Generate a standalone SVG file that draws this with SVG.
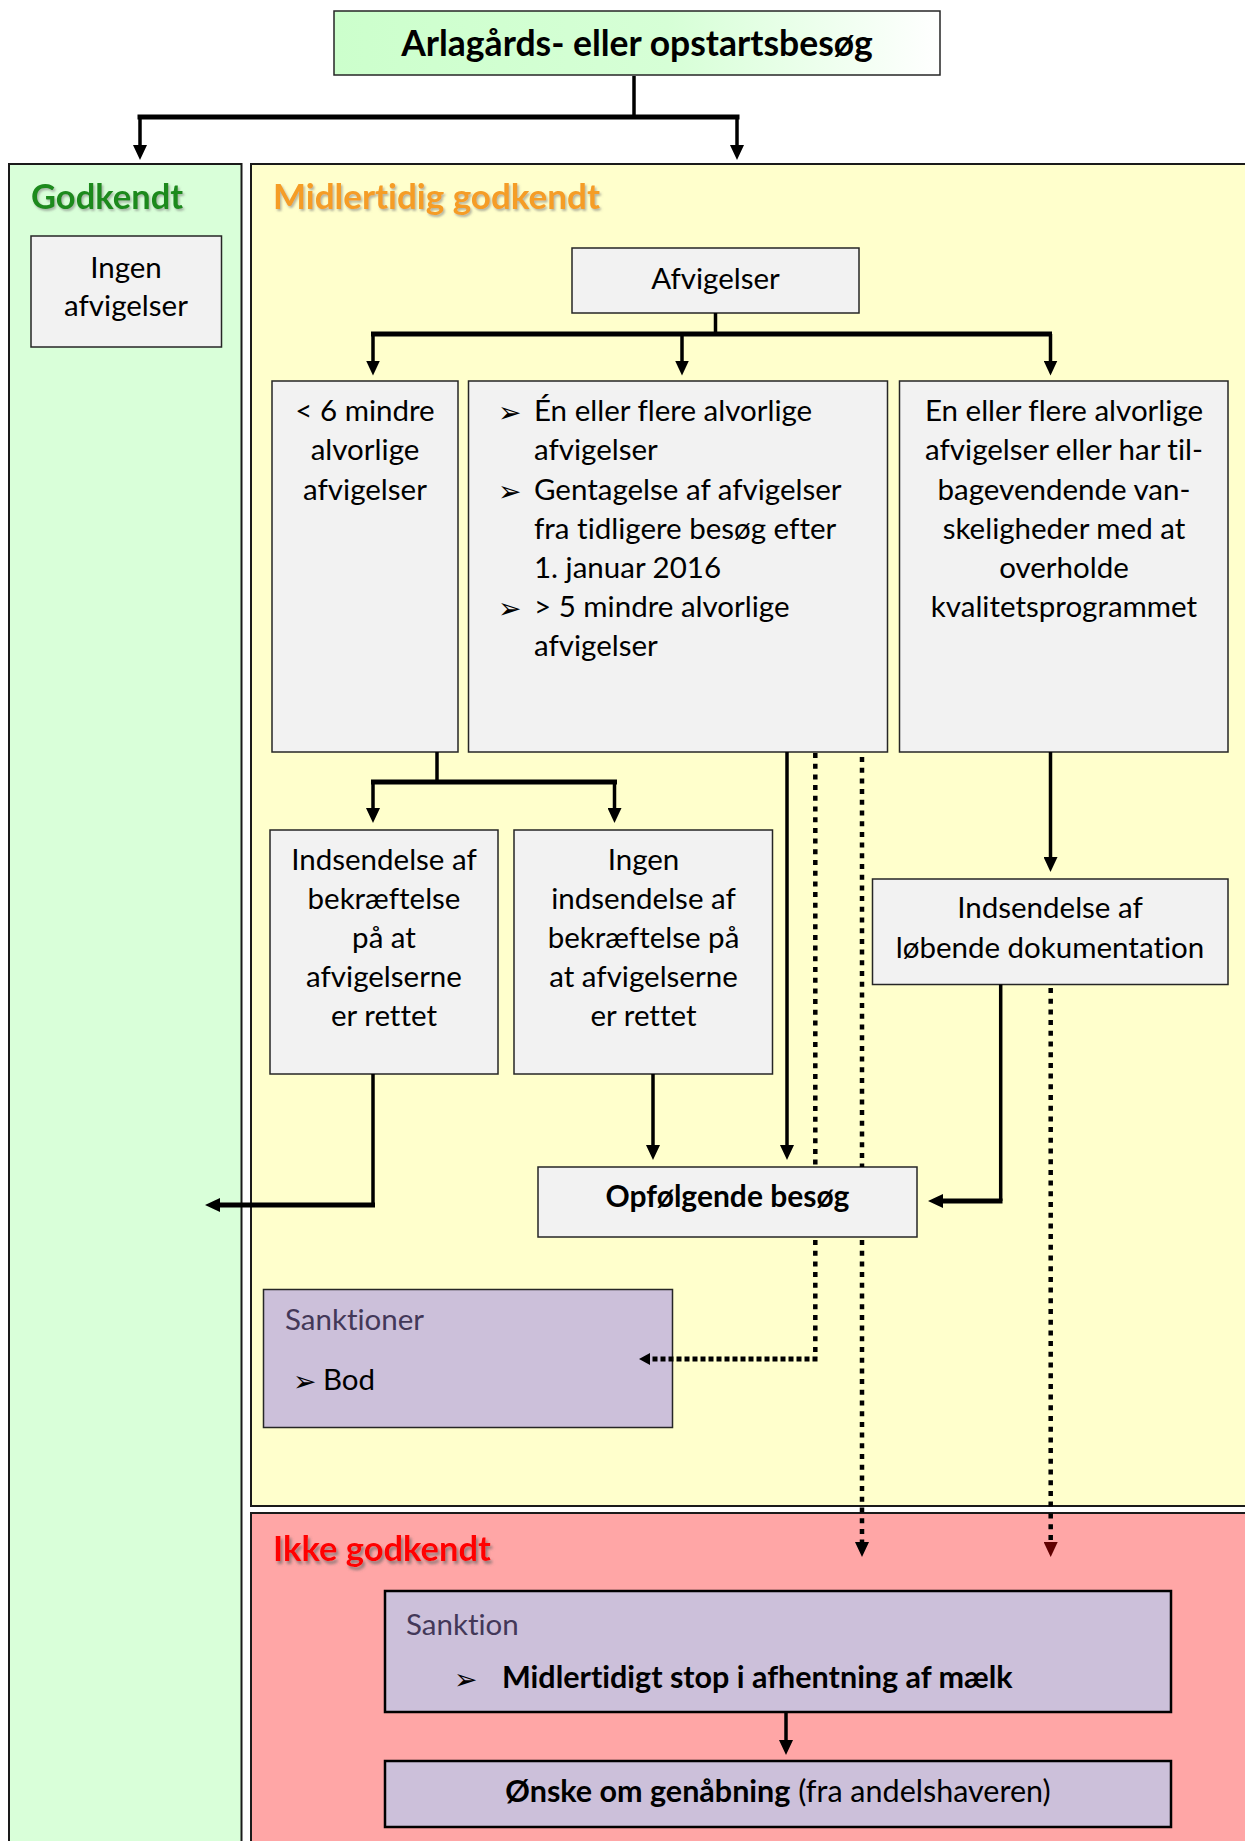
<svg xmlns="http://www.w3.org/2000/svg" width="1245" height="1841" viewBox="0 0 1245 1841">
<defs>
<linearGradient id="topg" x1="0" y1="0" x2="1" y2="0">
<stop offset="0" stop-color="#ccffcc"/>
<stop offset="0.55" stop-color="#d6ffd6"/>
<stop offset="1" stop-color="#ffffff"/>
</linearGradient>
<filter id="sh" x="-10%" y="-30%" width="130%" height="170%">
<feDropShadow dx="1.5" dy="2" stdDeviation="1.2" flood-color="#777" flood-opacity="0.55"/>
</filter>
<filter id="sh2" x="-10%" y="-30%" width="130%" height="170%">
<feDropShadow dx="2" dy="3" stdDeviation="1.5" flood-color="#666" flood-opacity="0.7"/>
</filter>
<marker id="ah" viewBox="0 0 15 14" refX="7" refY="7" markerWidth="15" markerHeight="14" markerUnits="userSpaceOnUse" orient="auto">
<path d="M0,0 L15,7 L0,14 z" fill="#000"/>
</marker>
<marker id="ahr" viewBox="0 0 15 14" refX="7" refY="7" markerWidth="15" markerHeight="14" markerUnits="userSpaceOnUse" orient="auto">
<path d="M0,0 L15,7 L0,14 z" fill="#600000"/>
</marker>
<marker id="ahs" viewBox="0 0 11 12" refX="5" refY="6" markerWidth="11" markerHeight="12" markerUnits="userSpaceOnUse" orient="auto">
<path d="M0,0 L11,6 L0,12 z" fill="#000"/>
</marker>
</defs>
<style>
text { font-variant-ligatures: none; }
.t { font-family: Lato, 'Liberation Sans', sans-serif; font-size: 29.5px; fill: #000; }
.c { text-anchor: middle; }
.b { font-weight: bold; font-size: 30px; }
.ttl { font-family: Lato, 'Liberation Sans', sans-serif; font-size: 34.5px; font-weight: bold; }
.bul { font-family: 'DejaVu Sans', sans-serif; font-size: 28px; fill: #000; }
.node { fill: #f2f2f2; stroke: #262626; stroke-width: 1.5; }
.sank { fill: #ccc0da; stroke: #262626; stroke-width: 1.5; }
.conn { fill: none; stroke: #000; stroke-width: 3.5; }
.bar { fill: none; stroke: #000; stroke-width: 5; }
.dot { fill: none; stroke: #000; stroke-width: 4.5; stroke-dasharray: 5 5.7; }
.sub { font-family: Lato, 'Liberation Sans', sans-serif; font-size: 29.5px; fill: #433858; }
</style>

<rect width="1245" height="1841" fill="#ffffff"/>

<g id="panel-godkendt">
<rect x="9" y="164" width="232.5" height="1700" fill="#d9ffd9" stroke="#1a1a1a" stroke-width="2"/>
<text class="ttl" x="31" y="209" fill="#1e8a1e" filter="url(#sh)">Godkendt</text>
</g>
<g id="panel-midlertidig">
<rect x="251" y="164" width="1010" height="1342" fill="#ffffcc" stroke="#1a1a1a" stroke-width="2"/>
<text class="ttl" x="273" y="209" fill="#f59d25" filter="url(#sh)" style="font-size:35px">Midlertidig godkendt</text>
</g>
<g id="panel-ikke">
<rect x="251" y="1513" width="1010" height="400" fill="#ffa6a6" stroke="#1a1a1a" stroke-width="2"/>
<text class="ttl" x="273" y="1561" fill="#ff0000" filter="url(#sh2)">Ikke godkendt</text>
</g>

<g id="node-top">
<rect x="334" y="11" width="606" height="64" fill="url(#topg)" stroke="#262626" stroke-width="1.5"/>
<text class="ttl c" x="637" y="56" fill="#000" style="font-size:35.5px">Arlagårds- eller opstartsbesøg</text>
</g>

<g id="node-ingen">
<rect class="node" x="31" y="236" width="190.5" height="111"/>
<text class="t c" x="126" y="277.5">Ingen</text>
<text class="t c" x="126" y="315.5">afvigelser</text>
</g>

<g id="node-afvigelser">
<rect class="node" x="572" y="248" width="287" height="65"/>
<text class="t c" x="715.5" y="289">Afvigelser</text>
</g>

<g id="node-mindre">
<rect class="node" x="272" y="381" width="186" height="371"/>
<text class="t c" x="365" y="421">&lt; 6 mindre</text>
<text class="t c" x="365" y="460">alvorlige</text>
<text class="t c" x="365" y="500">afvigelser</text>
</g>

<g id="node-alvorlige">
<rect class="node" x="468.5" y="381" width="419" height="371"/>
<text class="bul" x="498" y="422">➢</text>
<text class="t" x="534" y="421">Én eller flere alvorlige</text>
<text class="t" x="534" y="460">afvigelser</text>
<text class="bul" x="498" y="501">➢</text>
<text class="t" x="534" y="500">Gentagelse af afvigelser</text>
<text class="t" x="534" y="539">fra tidligere besøg efter</text>
<text class="t" x="534" y="578">1. januar 2016</text>
<text class="bul" x="498" y="618">➢</text>
<text class="t" x="534" y="617">&gt; 5 mindre alvorlige</text>
<text class="t" x="534" y="656">afvigelser</text>
</g>

<g id="node-tilbagevendende">
<rect class="node" x="899.5" y="381" width="328.5" height="371"/>
<text class="t c" x="1064" y="421">En eller flere alvorlige</text>
<text class="t c" x="1064" y="460">afvigelser eller har til-</text>
<text class="t c" x="1064" y="500">bagevendende van-</text>
<text class="t c" x="1064" y="539">skeligheder med at</text>
<text class="t c" x="1064" y="578">overholde</text>
<text class="t c" x="1064" y="617">kvalitetsprogrammet</text>
</g>

<g id="node-indsendelse">
<rect class="node" x="270" y="830" width="228" height="244"/>
<text class="t c" x="384" y="870">Indsendelse af</text>
<text class="t c" x="384" y="909">bekræftelse</text>
<text class="t c" x="384" y="948">på at</text>
<text class="t c" x="384" y="987">afvigelserne</text>
<text class="t c" x="384" y="1026">er rettet</text>
</g>

<g id="node-ingen-indsendelse">
<rect class="node" x="514" y="830" width="258.5" height="244"/>
<text class="t c" x="643.5" y="870">Ingen</text>
<text class="t c" x="643.5" y="909">indsendelse af</text>
<text class="t c" x="643.5" y="948">bekræftelse på</text>
<text class="t c" x="643.5" y="987">at afvigelserne</text>
<text class="t c" x="643.5" y="1026">er rettet</text>
</g>

<g id="node-loebende">
<rect class="node" x="872.5" y="879" width="355.5" height="105.5"/>
<text class="t c" x="1050" y="918">Indsendelse af</text>
<text class="t c" x="1050" y="958">løbende dokumentation</text>
</g>

<g id="node-opfoelgende">
<rect class="node" x="538" y="1167" width="379" height="70"/>
<text class="t c b" x="727.5" y="1207">Opfølgende besøg</text>
</g>

<g id="node-sanktioner">
<rect class="sank" x="263.5" y="1289.5" width="409" height="138"/>
<text class="sub" x="285" y="1330">Sanktioner</text>
<text class="bul" x="293" y="1391">➢</text>
<text class="t" x="323" y="1390">Bod</text>
</g>

<g id="node-sanktion">
<rect x="385" y="1591" width="786" height="121" fill="#ccc0da" stroke="#000" stroke-width="2.5"/>
<text class="sub" x="406" y="1635">Sanktion</text>
<text class="bul" x="454" y="1689">➢</text>
<text class="t b" x="502" y="1688" style="font-size:30.5px">Midlertidigt stop i afhentning af mælk</text>
</g>

<g id="node-genaabning">
<rect x="385" y="1761" width="786" height="66" fill="#ccc0da" stroke="#000" stroke-width="2.5"/>
<text class="t c" x="778" y="1802" style="font-size:30.5px"><tspan font-weight="bold">Ønske om genåbning</tspan> (fra andelshaveren)</text>
</g>

<g id="connectors">
<path class="conn" d="M634,76 V117"/>
<path class="bar" d="M137.5,117 H739.5"/>
<path class="conn" d="M140,117 V152" marker-end="url(#ah)"/>
<path class="conn" d="M737,117 V152" marker-end="url(#ah)"/>

<path class="conn" d="M715.5,313 V334"/>
<path class="bar" d="M371,334 H1052"/>
<path class="conn" d="M373,334 V367.5" marker-end="url(#ah)"/>
<path class="conn" d="M682,334 V367.5" marker-end="url(#ah)"/>
<path class="conn" d="M1050.5,334 V367.5" marker-end="url(#ah)"/>

<path class="conn" d="M437,752 V782"/>
<path class="bar" d="M371,782 H617"/>
<path class="conn" d="M373,782 V815" marker-end="url(#ah)"/>
<path class="conn" d="M614.5,782 V815" marker-end="url(#ah)"/>

<path class="conn" d="M1050.5,752 V864" marker-end="url(#ah)"/>

<path class="conn" d="M653,1074 V1152" marker-end="url(#ah)"/>
<path class="conn" d="M787,752 V1152" marker-end="url(#ah)"/>

<path class="conn" d="M373,1074 V1205"/>
<path class="bar" d="M375,1205 H213" marker-end="url(#ah)"/>

<path class="conn" d="M1000.7,984.5 V1201"/>
<path class="bar" d="M1002.5,1201 H936" marker-end="url(#ah)"/>

<path class="dot" d="M815.3,753 V1167"/>
<path class="dot" d="M815.3,1240 V1358"/>
<path d="M817.5,1359 H645" fill="none" stroke="#000" stroke-width="5" stroke-dasharray="5 3" marker-end="url(#ahs)"/>

<path class="dot" d="M862,757 V1167"/>
<path class="dot" d="M862,1240 V1549" marker-end="url(#ah)"/>

<path class="dot" d="M1050.7,988 V1509"/>
<path class="dot" d="M1050.7,1513.5 V1549" stroke="#600000" marker-end="url(#ahr)"/>

<path class="conn" d="M786,1712 V1747" marker-end="url(#ah)"/>
</g>
</svg>
